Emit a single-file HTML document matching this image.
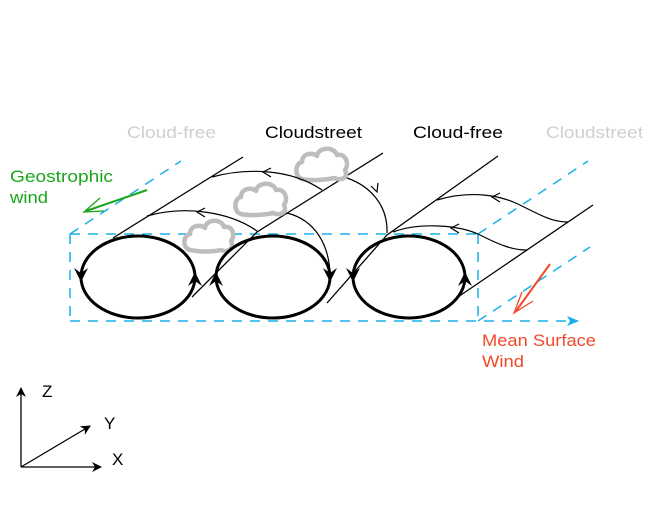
<!DOCTYPE html>
<html><head><meta charset="utf-8"><style>
html,body{margin:0;padding:0;background:#fff;}
svg{display:block;}
text{font-family:"Liberation Sans","DejaVu Sans",sans-serif;font-size:17px;}
</style></head><body>
<svg width="650" height="524" viewBox="0 0 650 524" xmlns="http://www.w3.org/2000/svg">
<defs>
<marker id="ab" markerWidth="10" markerHeight="10" refX="9" refY="5" orient="auto" markerUnits="userSpaceOnUse"><path d="M0,0 L10,5 L0,10 L3,5 Z" fill="#000"/></marker>
<marker id="abl" markerWidth="12" markerHeight="12" refX="11" refY="6" orient="auto" markerUnits="userSpaceOnUse"><path d="M0,1 L12,6 L0,11 L3,6 Z" fill="#1ab0ea"/></marker>
</defs>

<!-- labels -->
<text x="127" y="138" fill="#cfcfcf" textLength="89" lengthAdjust="spacingAndGlyphs">Cloud-free</text>
<text x="265" y="138" fill="#000" textLength="97" lengthAdjust="spacingAndGlyphs">Cloudstreet</text>
<text x="413" y="138" fill="#000" textLength="90" lengthAdjust="spacingAndGlyphs">Cloud-free</text>
<text x="546" y="138" fill="#cfcfcf" textLength="97" lengthAdjust="spacingAndGlyphs">Cloudstreet</text>
<text x="10" y="182" fill="#1aa51a" textLength="103" lengthAdjust="spacingAndGlyphs">Geostrophic</text>
<text x="10" y="203" fill="#1aa51a" textLength="38" lengthAdjust="spacingAndGlyphs">wind</text>
<text x="482" y="346" fill="#f04a2a" textLength="114" lengthAdjust="spacingAndGlyphs">Mean Surface</text>
<text x="482" y="367" fill="#f04a2a" textLength="42" lengthAdjust="spacingAndGlyphs">Wind</text>

<!-- dashed box -->
<g stroke="#1ab0ea" stroke-width="1.5" stroke-dasharray="10,8" fill="none">
<line x1="70" y1="234" x2="478" y2="234"/>
<line x1="70" y1="234" x2="70" y2="321"/>
<line x1="478" y1="234" x2="478" y2="321"/>
<line x1="70" y1="321" x2="578" y2="321" marker-end="url(#abl)"/>
<line x1="70" y1="234" x2="181" y2="161"/>
<line x1="478" y1="234" x2="588" y2="161"/>
<line x1="478" y1="321" x2="590" y2="247"/>
</g>

<!-- green arrow -->
<g stroke="#1aa51a" stroke-width="2" fill="none">
<line x1="147" y1="190" x2="86" y2="211"/>
<path d="M100,198 L84,212 L104,211" stroke-width="1.3"/>
</g>
<!-- red arrow -->
<g stroke="#f04a2a" stroke-width="2" fill="none">
<line x1="550" y1="264" x2="516" y2="311"/>
<path d="M522,292 L514,313 L533,301" stroke-width="1.3"/>
</g>

<!-- diagonal lines -->
<g stroke="#000" stroke-width="1.3" fill="none">
<polyline points="113,238 243,157"/>
<polyline points="192,297 257,232 383,153"/>
<polyline points="327,303 387,235 498,156"/>
<polyline points="458,297 593,205"/>
</g>

<!-- clouds -->
<g stroke="#bdbdbd" stroke-width="4.5" fill="#fff" stroke-linejoin="round">
<path d="M190,250 C182,248 183,235 190,234 C190,225 201,224 205,228 C206,219 221,218 224,227 C232,225 236,235 231,241 C235,249 227,253 221,250 C212,252 199,252 190,250 Z"/>
<path d="M241,214 C233,212 234,198 241,197 C241,188 252,187 256,191 C257,182 273,181 276,190 C284,188 289,198 284,205 C288,213 280,216 273,213 C264,215 250,216 241,214 Z"/>
<path d="M302,179 C294,177 295,163 302,162 C302,153 313,152 317,156 C318,147 334,146 337,155 C345,153 350,163 345,170 C349,178 341,181 334,178 C325,180 311,181 302,179 Z"/>
</g>

<!-- arcs -->
<g stroke="#000" stroke-width="1.2" fill="none">
<path d="M212,177 C245,168 290,168 322,190"/>
<path d="M347,178 C370,186 388,205 387,233"/>
<path d="M147,216 C185,205 230,212 257,231"/>
<path d="M287,213 C315,220 330,245 330,277"/>
<path d="M437,200 C470,190 500,195 520,205 C540,215 552,222 568,222"/>
<path d="M393,232 C420,222 460,225 480,235 C500,245 512,250 527,250"/>
<path d="M271,168 L263,172 L271,177"/>
<path d="M205,208 L197,212 L205,217"/>
<path d="M500,193 L492,197 L500,202"/>
<path d="M459,224 L451,228 L459,233"/>
<path d="M371,186 L377,192 L378,183"/>
</g>

<!-- ellipses -->
<g stroke="#000" stroke-width="3" fill="none">
<ellipse cx="138" cy="277" rx="57" ry="41"/>
<ellipse cx="273" cy="277" rx="57" ry="41"/>
<ellipse cx="409" cy="277" rx="56" ry="41"/>
</g>
<g fill="#000">
<path d="M74,268 L81,282 L88,268 L81,273 Z"/>
<path d="M188,286 L195,272 L202,286 L195,281 Z"/>
<path d="M209,286 L216,272 L223,286 L216,281 Z"/>
<path d="M323,268 L330,282 L337,268 L330,273 Z"/>
<path d="M346,268 L353,282 L360,268 L353,273 Z"/>
<path d="M458,286 L465,272 L472,286 L465,281 Z"/>
</g>

<!-- axes -->
<g stroke="#000" stroke-width="1.3" fill="none">
<line x1="21" y1="467" x2="21" y2="388" marker-end="url(#ab)"/>
<line x1="21" y1="467" x2="101" y2="467" marker-end="url(#ab)"/>
<line x1="21" y1="467" x2="90" y2="426" marker-end="url(#ab)"/>
</g>
<text x="42" y="397" fill="#000">Z</text>
<text x="104" y="429" fill="#000">Y</text>
<text x="112" y="465" fill="#000">X</text>
</svg>
</body></html>
